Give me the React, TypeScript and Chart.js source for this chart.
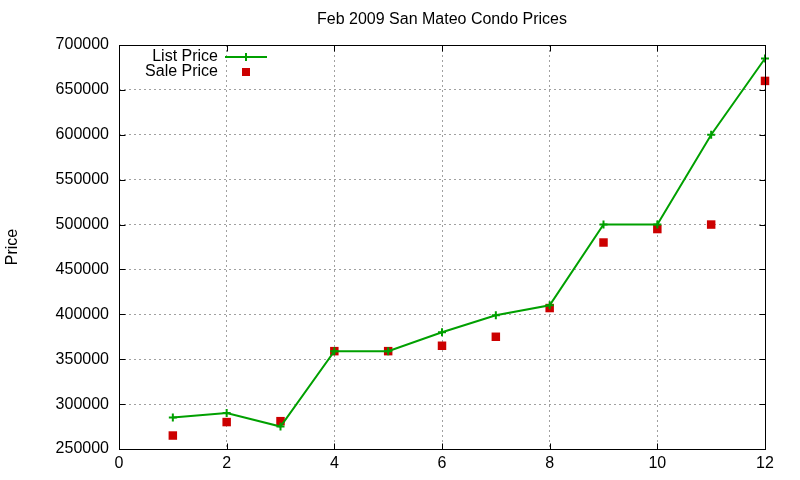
import React, { useEffect, useRef } from "react";
import { Chart, registerables } from "chart.js";

Chart.register(...registerables);

const TITLE = "Feb 2009 San Mateo Condo Prices";
const Y_TITLE = "Price";
const months = [1, 2, 3, 4, 5, 6, 7, 8, 9, 10, 11, 12];
const listPrice = [285000, 290000, 275000, 359000, 359000, 380000, 399000, 410000, 500000, 500000, 600000, 685000];
const salePrice = [265000, 280000, 281000, 359000, 359000, 365000, 375000, 407000, 480000, 495000, 500000, 660000];

const FONT = "'Liberation Sans', Arial, sans-serif";
const GREEN = "#00a000";
const RED = "#cc0000";

const framePlugin = {
  id: "frame",
  afterDatasetsDraw(chart: any) {
    const { ctx, chartArea } = chart;
    const { left, right, top, bottom } = chartArea;
    const xs = chart.scales.x;
    const ys = chart.scales.y;
    ctx.save();
    ctx.strokeStyle = "#000";
    ctx.lineWidth = 1;
    ctx.setLineDash([]);
    const L = Math.round(left) + 0.5;
    const R = Math.round(right) + 0.5;
    const T = Math.round(top) + 0.5;
    const B = Math.round(bottom) + 0.5;
    ctx.strokeRect(L, T, R - L, B - T);
    ctx.beginPath();
    ys.ticks.forEach((t: any) => {
      const y = Math.round(ys.getPixelForValue(t.value)) + 0.5;
      ctx.moveTo(L, y);
      ctx.lineTo(L + 6, y);
      ctx.moveTo(R, y);
      ctx.lineTo(R - 6, y);
    });
    xs.ticks.forEach((t: any) => {
      const x = Math.round(xs.getPixelForValue(t.value)) + 0.5;
      ctx.moveTo(x, B);
      ctx.lineTo(x, B - 6);
      ctx.moveTo(x, T);
      ctx.lineTo(x, T + 6);
    });
    ctx.stroke();

    // title
    ctx.fillStyle = "#000";
    ctx.font = `16px ${FONT}`;
    ctx.textAlign = "center";
    ctx.textBaseline = "middle";
    ctx.fillText(TITLE, (left + right) / 2, 20);

    // legend
    const ds = chart.data.datasets;
    const textRight = 218;
    const sampleX = 246;
    ctx.textAlign = "right";
    ctx.fillText(ds[0].label, textRight, 57);
    ctx.fillText(ds[1].label, textRight, 72);
    ctx.strokeStyle = GREEN;
    ctx.lineWidth = 2;
    ctx.beginPath();
    ctx.moveTo(225, 57);
    ctx.lineTo(267, 57);
    ctx.moveTo(sampleX - 4, 57);
    ctx.lineTo(sampleX + 4, 57);
    ctx.moveTo(sampleX, 53);
    ctx.lineTo(sampleX, 61);
    ctx.stroke();
    ctx.fillStyle = RED;
    ctx.fillRect(sampleX - 4, 68, 8, 8);
    ctx.restore();
  },
};

export default function App() {
  const ref = useRef<HTMLCanvasElement | null>(null);
  useEffect(() => {
    if (!ref.current) return;
    const chart = new Chart(ref.current, {
      type: "line",
      data: {
        datasets: [
          {
            label: "List Price",
            data: months.map((m, i) => ({ x: m, y: listPrice[i] })),
            borderColor: GREEN,
            backgroundColor: GREEN,
            borderWidth: 2,
            tension: 0,
            pointStyle: "cross",
            pointRadius: 4,
            pointBorderWidth: 2,
            pointBorderColor: GREEN,
            fill: false,
            clip: false,
          },
          {
            label: "Sale Price",
            data: months.map((m, i) => ({ x: m, y: salePrice[i] })),
            borderColor: RED,
            backgroundColor: RED,
            showLine: false,
            pointStyle: "rect",
            pointRadius: 6,
            pointBorderWidth: 0,
            fill: false,
            clip: false,
          },
        ],
      },
      options: {
        animation: false,
        responsive: false,
        maintainAspectRatio: false,
        layout: { padding: { left: 0, top: 45, right: 35, bottom: 0 } },
        plugins: {
          legend: { display: false },
          title: { display: false },
          tooltip: { enabled: false },
        },
        scales: {
          x: {
            type: "linear",
            min: 0,
            max: 12,
            ticks: {
              stepSize: 2,
              color: "#000",
              font: { family: FONT, size: 16 },
              padding: 5,
              maxRotation: 0,
              callback: (v: any) => String(v),
            },
            grid: { color: "#a0a0a0", lineWidth: 1, drawTicks: false },
            border: { display: false, dash: [2, 3] },
            afterFit: (s: any) => {
              s.height = 31;
            },
          },
          y: {
            type: "linear",
            min: 250000,
            max: 700000,
            ticks: {
              stepSize: 50000,
              color: "#000",
              font: { family: FONT, size: 16 },
              padding: 10,
              callback: (v: any) => String(v),
            },
            grid: { color: "#a0a0a0", lineWidth: 1, drawTicks: false },
            border: { display: false, dash: [2, 3] },
            title: {
              display: true,
              text: Y_TITLE,
              color: "#000",
              font: { family: FONT, size: 16 },
              padding: { top: 3, bottom: 0 },
            },
            afterFit: (s: any) => {
              s.width = 119;
            },
          },
        },
      },
      plugins: [framePlugin],
    });
    return () => chart.destroy();
  }, []);
  return (
    <div style={{ position: "absolute", left: 0, top: 0, width: 800, height: 480, background: "#fff" }}>
      <canvas ref={ref} width={800} height={480} style={{ width: 800, height: 480 }} />
    </div>
  );
}
